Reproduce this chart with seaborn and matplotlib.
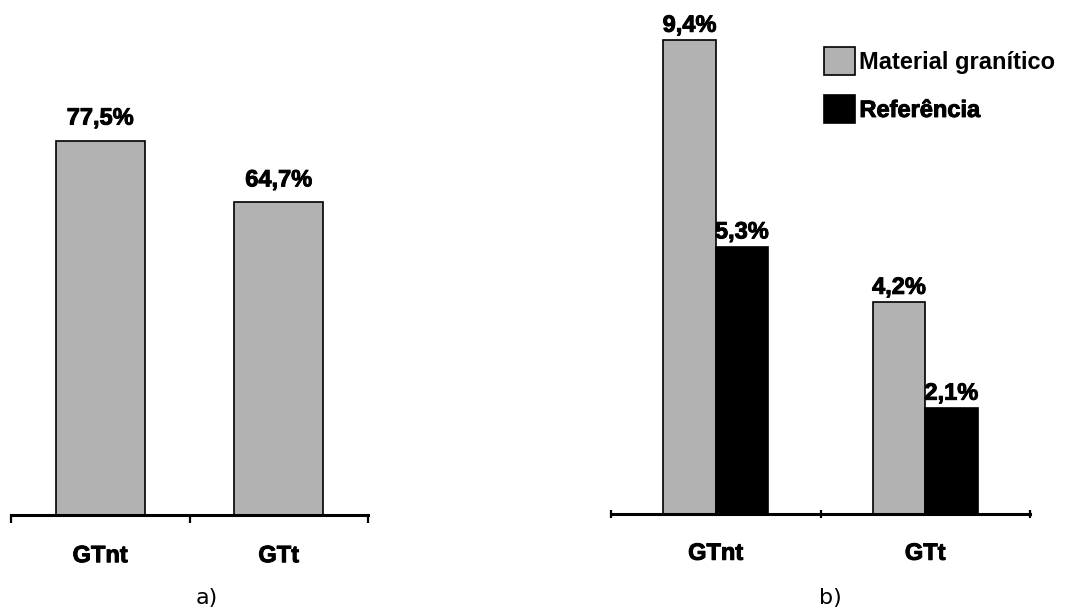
import pandas as pd
import matplotlib
matplotlib.use('Agg')
import matplotlib.pyplot as plt
import matplotlib.patheffects as pe
from matplotlib.patches import Patch
import seaborn as sns

# dados
categorias = ['GTnt', 'GTt']
valores_a = [77.5, 64.7]
rotulos_a = ['77,5%', '64,7%']

series = ['Material granítico', 'Referência']
valores_material = [9.4, 4.2]
valores_referencia = [5.3, 2.1]
rotulos_material = ['9,4%', '4,2%']
rotulos_referencia = ['5,3%', '2,1%']

cinza = '#b2b2b2'
cores = [cinza, '#000000']

sns.set_style('white')
plt.rcParams['font.family'] = ['Liberation Sans', 'DejaVu Sans']
plt.rcParams['text.color'] = 'black'
plt.rcParams['xtick.color'] = 'black'
plt.rcParams['axes.edgecolor'] = 'black'

# contorno leve para deixar o negrito mais pesado, como no original
grosso = [pe.withStroke(linewidth=0.7, foreground='black')]

W, H = 1068, 610
fig = plt.figure(figsize=(W / 100, H / 100), dpi=100)

def px_axes(x0, x1, ybase, ytop):
    return fig.add_axes([x0 / W, 1 - ybase / H, (x1 - x0) / W, (ybase - ytop) / H])

def estilo_eixo(ax, pad, tick_dir, tick_len):
    for s in ['top', 'right', 'left']:
        ax.spines[s].set_visible(False)
    ax.spines['bottom'].set_linewidth(2.2)
    ax.set_yticks([])
    ax.set_xlim(-0.5, 1.5)
    ax.set_xticks([0, 1])
    ax.set_xticklabels(categorias, fontsize=17, fontweight='bold')
    for t in ax.get_xticklabels():
        t.set_path_effects(grosso)
    ax.tick_params(axis='x', which='major', length=0, pad=pad)
    ax.set_xticks([-0.5, 0.5, 1.5], minor=True)
    ax.tick_params(axis='x', which='minor', bottom=True, direction=tick_dir,
                   length=tick_len, width=1.6, color='black')
    ax.set_xlabel('')
    ax.set_ylabel('')
    ax.patch.set_alpha(0)

# 1. painel a)
ax1 = px_axes(11, 368, 515, 32)
df_a = pd.DataFrame({'cat': categorias, 'valor': valores_a})
sns.barplot(data=df_a, x='cat', y='valor', color=cinza, saturation=1,
            edgecolor='black', linewidth=1.2, width=0.5, ax=ax1)
ax1.set_ylim(0, 100)
estilo_eixo(ax1, 21, 'out', 6)
for t in ax1.bar_label(ax1.containers[0], labels=rotulos_a, padding=8,
                       fontsize=17, fontweight='bold'):
    t.set_path_effects(grosso)

# 2. painel b)
ax2 = px_axes(611, 1030, 514, 10)
df_b = pd.DataFrame({
    'cat': categorias * 2,
    'valor': valores_material + valores_referencia,
    'serie': [series[0]] * 2 + [series[1]] * 2,
})
sns.barplot(data=df_b, x='cat', y='valor', hue='serie', hue_order=series,
            palette=cores, saturation=1, edgecolor='black', linewidth=1.2,
            width=0.5, legend=False, ax=ax2)
ax2.set_ylim(0, 10)
estilo_eixo(ax2, 20, 'inout', 6)
for cont, rot in zip(ax2.containers, [rotulos_material, rotulos_referencia]):
    for t in ax2.bar_label(cont, labels=rot, padding=2.5, fontsize=17, fontweight='bold'):
        t.set_path_effects(grosso)

handles = [Patch(facecolor=c, edgecolor='black', linewidth=1.2) for c in cores]
leg = ax2.legend(handles, series, loc='upper left',
                 bbox_to_anchor=(824 / W, 1 - 47 / H), bbox_transform=fig.transFigure,
                 frameon=False, borderpad=0, borderaxespad=0,
                 handlelength=1.3, handleheight=1.45, handletextpad=0.2,
                 labelspacing=0.85, prop={'size': 17, 'weight': 'bold'})
leg.get_texts()[1].set_path_effects(grosso)

# 3. legendas a) e b)
fig.text(207 / W, 1 - 598 / H, 'a)', ha='center', va='center',
         fontsize=16, family='DejaVu Sans')
fig.text(830 / W, 1 - 598 / H, 'b)', ha='center', va='center',
         fontsize=16, family='DejaVu Sans')

fig.savefig('out.png', dpi=100, facecolor='white')
